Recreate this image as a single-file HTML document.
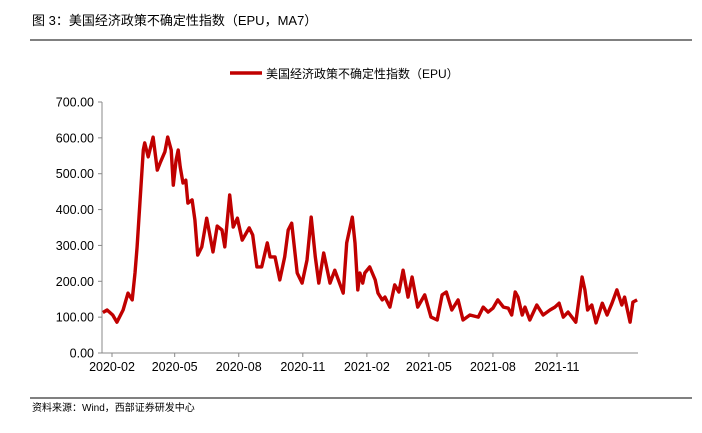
<!DOCTYPE html>
<html><head><meta charset="utf-8"><style>
body{margin:0;background:#fff;width:702px;height:428px;overflow:hidden;font-family:"Liberation Sans","Noto Sans CJK SC",sans-serif}
</style></head><body>
<svg width="702" height="428" xmlns="http://www.w3.org/2000/svg">
<text x="32" y="25" font-size="13" fill="#000" font-family="Liberation Sans, Noto Sans CJK SC, sans-serif">图 3：美国经济政策不确定性指数（EPU，MA7）</text>
<line x1="30" y1="40" x2="692" y2="40" stroke="#000" stroke-width="1"/>
<g>
<line x1="230" y1="73" x2="262" y2="73" stroke="#c00000" stroke-width="3.5"/>
<text x="266" y="78" font-size="12" fill="#000">美国经济政策不确定性指数（EPU）</text>
</g>
<g id="axes"></g>
<path id="line" fill="none" stroke="#c00000" stroke-width="3.4" stroke-linejoin="round"/>
<line x1="30" y1="398" x2="692" y2="398" stroke="#000" stroke-width="1"/>
<text x="32" y="411" font-size="10" fill="#000">资料来源：Wind，西部证券研发中心</text>
</svg>
<script>
const days=[18,24,32,38,47,54,60,64,67,71,76,78,83,90,96,100,107,111,116,119,123,126,129,133,137,140,146,150,154,160,167,176,182,189,193,200,205,211,218,228,233,239,246,254,258,265,272,279,284,289,297,304,311,317,323,328,335,344,351,363,368,376,380,384,387,391,394,401,409,413,419,423,430,437,443,449,456,462,470,480,489,498,505,511,519,528,535,545,557,564,571,578,585,593,600,605,610,614,620,624,631,641,650,660,667,673,679,686,697,706,710,714,720,726,735,742,749,756,763,767,775,779,785];
const epu=[113,120,106,86,120,167,148,223,296,418,566,586,547,602,510,530,561,602,566,468,538,566,519,474,482,418,427,371,273,296,376,282,354,343,296,441,351,376,315,349,329,240,240,307,268,268,204,268,343,362,223,195,259,379,268,195,279,195,231,167,307,379,307,176,223,195,223,240,204,167,148,156,128,190,170,231,156,212,128,162,100,92,162,170,120,148,92,106,100,128,114,125,148,128,125,106,170,156,106,128,92,134,106,120,128,139,100,114,86,212,176,120,134,84,139,106,139,176,134,156,86,142,148];
const yTicks=[0,100,200,300,400,500,600,700];
const xTickDays=[31,121,213,305,397,486,578,670];
const xTickLabels=["2020-02","2020-05","2020-08","2020-11","2021-02","2021-05","2021-08","2021-11"];
const x0=102,x1=638,yb=353,yt=102;
function xs(d){return 112+(d-31)*0.6964;}
function ys(v){return yb-(v/700)*(yb-yt);}
const NS="http://www.w3.org/2000/svg";
const g=document.getElementById('axes');
function mk(t,a){const e=document.createElementNS(NS,t);for(const k in a)e.setAttribute(k,a[k]);g.appendChild(e);return e;}
let ya=mk('line',{x1:x0,y1:yt,x2:x0,y2:yb,stroke:'#888','stroke-width':1});


let xa=mk('line',{x1:x0,y1:yb,x2:x1,y2:yb,stroke:'#888','stroke-width':1});


yTicks.forEach(v=>{
 const tk=mk('line',{x1:x0-4,y1:ys(v),x2:x0,y2:ys(v),stroke:'#888'});
 
 
 const t=mk('text',{x:x0-8,y:ys(v)+4.5,'text-anchor':'end','font-size':'12.5',fill:'#000'});
 t.textContent=v.toFixed(2);
 
 
});
xTickDays.forEach((d,i)=>{
 const tk=mk('line',{x1:xs(d),y1:yb,x2:xs(d),y2:yb+4,stroke:'#888'});
 
 
 const t=mk('text',{x:xs(d),y:yb+18,'text-anchor':'middle','font-size':'12.5',fill:'#000'});
 t.textContent=xTickLabels[i];
 
 
});
document.getElementById('line').setAttribute('d',days.map((d,i)=>(i?'L':'M')+xs(d).toFixed(1)+','+ys(epu[i]).toFixed(1)).join(''));
</script>
</body></html>
